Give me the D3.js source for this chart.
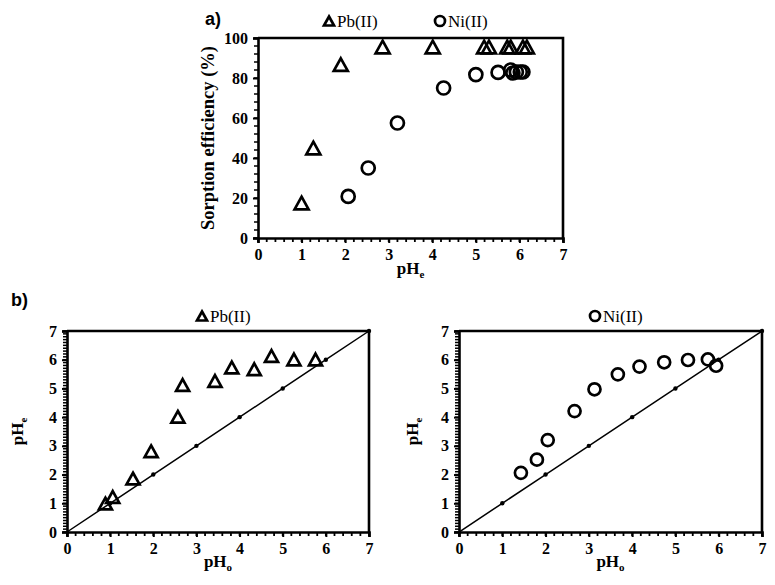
<!DOCTYPE html>
<html><head><meta charset="utf-8">
<script src="https://cdn.jsdelivr.net/npm/d3@7"></script>
<style>body{margin:0;background:#fff}svg{display:block}</style>
</head><body>
<svg id="c" width="775" height="585"></svg>
<script>
// ---- data ----
const aPbX = [1.00, 1.27, 1.90, 2.86, 4.01, 5.19, 5.30, 5.72, 5.80, 6.08, 6.17];
const aPbY = [17.5, 45.0, 86.7, 95.5, 95.5, 95.5, 95.5, 95.5, 95.5, 95.5, 95.5];
const aNiX = [2.07, 2.53, 3.20, 4.26, 5.00, 5.51, 5.80, 5.85, 5.93, 6.02, 6.08];
const aNiY = [20.8, 35.0, 57.5, 75.0, 81.7, 82.8, 84.0, 82.5, 83.0, 83.0, 83.0];
const bPbX = [0.89, 1.06, 1.53, 1.95, 2.57, 2.68, 3.43, 3.82, 4.34, 4.74, 5.26, 5.76];
const bPbY = [0.99, 1.22, 1.86, 2.81, 4.01, 5.12, 5.26, 5.73, 5.67, 6.13, 6.01, 6.01];
const bNiX = [1.43, 1.80, 2.05, 2.67, 3.13, 3.67, 4.17, 4.74, 5.29, 5.75, 5.94];
const bNiY = [2.06, 2.52, 3.20, 4.21, 4.97, 5.49, 5.76, 5.91, 5.99, 6.01, 5.79];
const refLine = [0, 1, 2, 3, 4, 5, 6, 7];
const xTicks = [0, 1, 2, 3, 4, 5, 6, 7];
const aYTicks = [0, 20, 40, 60, 80, 100];
const bYTicks = [0, 1, 2, 3, 4, 5, 6, 7];

const svg = d3.select("#c");
const SERIF = "'Liberation Serif','Times New Roman',serif";
const SANS = "'Liberation Sans',Arial,sans-serif";

function triPath(s){
  const h = s*0.9;
  return `M0,${-h/2}L${s/2},${h/2}L${-s/2},${h/2}Z`;
}

function panel(o){
  const x = d3.scaleLinear().domain([0,7]).range([o.x0,o.x1]);
  const y = d3.scaleLinear().domain(o.yDom).range([o.y0,o.y1]);
  const g = svg.append("g");
  const xm = d3.range(0, 7.0001, 0.2);
  g.selectAll(null).data(xm).join("line")
    .attr("x1",d=>x(d)).attr("x2",d=>x(d)).attr("y1",o.y0).attr("y2",o.y0+4)
    .attr("stroke","#000").attr("stroke-width",1.8);
  const ym = d3.range(o.yDom[0], o.yDom[1]+1e-6, o.yMinor);
  g.selectAll(null).data(ym).join("line")
    .attr("x1",o.x0-4).attr("x2",o.x0).attr("y1",d=>y(d)).attr("y2",d=>y(d))
    .attr("stroke","#000").attr("stroke-width",1.5);
  const xa = g.append("g").attr("transform",`translate(0,${o.y0})`)
    .call(d3.axisBottom(x).tickValues(xTicks).tickSize(5).tickPadding(6).tickFormat(d3.format("d")));
  const ya = g.append("g").attr("transform",`translate(${o.x0},0)`)
    .call(d3.axisLeft(y).tickValues(o.yTicks).tickSize(5).tickPadding(5).tickFormat(d3.format("d")));
  [xa,ya].forEach(a=>{
    a.select(".domain").attr("stroke","#000").attr("stroke-width",2.6);
    a.selectAll(".tick line").attr("stroke","#000").attr("stroke-width",2);
    a.selectAll("text").attr("font-family",SERIF).attr("font-weight","bold")
      .attr("font-size",16).attr("fill","#000");
  });
  g.append("path").attr("d",`M${o.x0},${o.y1}H${o.x1}V${o.y0}`)
    .attr("fill","none").attr("stroke","#000").attr("stroke-width",2.6);
  if(o.ref){
    const line = d3.line().x(d=>x(d)).y(d=>y(d));
    g.append("path").attr("d",line(refLine)).attr("fill","none")
      .attr("stroke","#000").attr("stroke-width",1.5);
    g.selectAll(null).data(refLine.slice(1)).join("circle")
      .attr("cx",d=>x(d)).attr("cy",d=>y(d)).attr("r",2.2).attr("fill","#000");
  }
  o.series.forEach(s=>{
    const pts = s.xs.map((v,i)=>[v,s.ys[i]]);
    if(s.shape==="tri"){
      g.selectAll(null).data(pts).join("path")
        .attr("d",triPath(o.mk+1))
        .attr("transform",d=>`translate(${x(d[0])},${y(d[1])})`)
        .attr("fill","none").attr("stroke","#000").attr("stroke-width",2.7);
    } else {
      g.selectAll(null).data(pts).join("circle")
        .attr("cx",d=>x(d[0])).attr("cy",d=>y(d[1])).attr("r",o.mk/2)
        .attr("fill","none").attr("stroke","#000").attr("stroke-width",2.7);
    }
  });
  const xt = g.append("text").attr("x",(o.x0+o.x1)/2).attr("y",o.xTitleY)
    .attr("text-anchor","middle").attr("font-family",SERIF).attr("font-weight","bold")
    .attr("font-size",17);
  xt.append("tspan").text("pH");
  xt.append("tspan").text(o.xSub).attr("font-size",11).attr("dy",4);
  const yt = g.append("text").attr("transform",`translate(${o.yTitleX},${(o.y0+o.y1)/2}) rotate(-90)`)
    .attr("text-anchor","middle").attr("font-family",SERIF).attr("font-weight","bold")
    .attr("font-size",o.yTitleSize||17);
  if(o.yTitle){ yt.text(o.yTitle); }
  else { yt.append("tspan").text("pH"); yt.append("tspan").text("e").attr("font-size",11).attr("dy",4); }
  o.legend.forEach(l=>{
    if(l.shape==="tri"){
      g.append("path").attr("d",triPath(10)).attr("transform",`translate(${l.x},${l.y})`)
        .attr("fill","none").attr("stroke","#000").attr("stroke-width",2.7);
    } else {
      g.append("circle").attr("cx",l.x).attr("cy",l.y).attr("r",5)
        .attr("fill","none").attr("stroke","#000").attr("stroke-width",2.7);
    }
    g.append("text").attr("x",l.x+8).attr("y",l.y+6).text(l.label)
      .attr("font-family",SERIF).attr("font-size",17).attr("fill","#000");
  });
}

panel({x0:258,x1:563,y0:238,y1:38,yDom:[0,100],yTicks:aYTicks,yMinor:4,mk:13,
  xSub:"e",xTitleY:274,yTitleX:214,yTitle:"Sorption efficiency (%)",yTitleSize:18.5,
  series:[{xs:aPbX,ys:aPbY,shape:"tri"},{xs:aNiX,ys:aNiY,shape:"circ"}],
  legend:[{shape:"tri",x:329,y:21,label:"Pb(II)"},{shape:"circ",x:440,y:21,label:"Ni(II)"}]});

panel({x0:67,x1:369,y0:532,y1:331,yDom:[0,7],yTicks:bYTicks,yMinor:0.1,mk:12,ref:true,
  xSub:"o",xTitleY:567,yTitleX:23,
  series:[{xs:bPbX,ys:bPbY,shape:"tri"}],
  legend:[{shape:"tri",x:202,y:316,label:"Pb(II)"}]});

panel({x0:459,x1:762,y0:532,y1:331,yDom:[0,7],yTicks:bYTicks,yMinor:0.1,mk:12,ref:true,
  xSub:"o",xTitleY:567,yTitleX:418,
  series:[{xs:bNiX,ys:bNiY,shape:"circ"}],
  legend:[{shape:"circ",x:595,y:316,label:"Ni(II)"}]});

svg.append("text").attr("x",205).attr("y",25).text("a)")
  .attr("font-family",SANS).attr("font-weight","bold").attr("font-size",18);
svg.append("text").attr("x",11).attr("y",306).text("b)")
  .attr("font-family",SANS).attr("font-weight","bold").attr("font-size",18);
</script>
</body></html>
